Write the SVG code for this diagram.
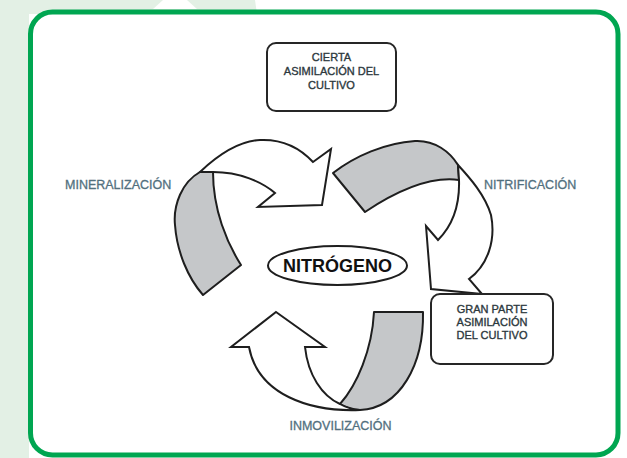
<svg xmlns="http://www.w3.org/2000/svg" width="627" height="458" viewBox="0 0 627 458">
  <style>
    .bg { fill: #e3f0e5; }
    .frame { fill: #ffffff; stroke: #00a651; stroke-width: 5; }
    .box { fill: #ffffff; stroke: #262626; stroke-width: 2; }
    .boxtxt { font-family: "Liberation Sans", Arial, sans-serif; font-size: 11px; fill: #2c383d; stroke: #2c383d; stroke-width: 0.35; text-anchor: middle; }
    .lbl { font-family: "Liberation Sans", Arial, sans-serif; font-size: 12.5px; fill: #52707e; stroke: #52707e; stroke-width: 0.3; }
    .grey { fill: #c5c7c9; stroke: #1e1e1e; stroke-width: 2; stroke-linejoin: round; }
    .white { fill: #ffffff; stroke: #1e1e1e; stroke-width: 2; stroke-linejoin: miter; }
    .center { fill: #ffffff; stroke: #1e1e1e; stroke-width: 2; }
    .centertxt { font-family: "Liberation Sans", Arial, sans-serif; font-size: 18px; font-weight: bold; fill: #111111; text-anchor: middle; }
  </style>

  <!-- background -->
  <rect x="0" y="0" width="627" height="458" fill="#ffffff"/>
  <rect class="bg" x="0" y="0" width="29" height="458"/>
  <polygon class="bg" points="0,0 255,0 257,14 0,14"/>
  <polygon fill="#ffffff" points="153,9 163,0 187,0 197,9"/>
  <rect class="frame" x="30.5" y="12" width="587.5" height="443" rx="22" ry="22"/>

  <!-- connectors (cycle arrows) -->
  <g id="connectors">
    <!-- Mineralización arrow -->
    <path class="grey" d="M 200,172 C 182,182 173,205 175,225 C 177,252 188,278 203,295 L 241,265 C 227,243 213,210 213,172 Z"/>
    <path class="white" d="M 200,172 C 218,155 240,141 260,140 C 282,139 300,148 313,162 L 331,149 L 322,205 L 258,207 L 275,193 C 262,182 240,172 213,172 Z"/>

    <!-- Nitrificación arrow -->
    <path class="grey" d="M 333,173 C 355,156 385,143 415,141 C 435,140 450,152 458,165 L 459,180 C 430,176 395,192 365,212 Z"/>
    <path class="white" d="M 458,165 C 470,178 485,195 491,215 C 496,240 488,265 469,279 L 482,294 L 431,289 L 426,226 L 438,240 C 450,228 460,210 459,180 Z"/>

    <!-- Inmovilización arrow -->
    <path class="grey" d="M 374,312 L 423,312 C 424,365 400,408 360,410 C 352,409 345,407 340,404 C 357,385 372,350 374,312 Z"/>
    <path class="white" d="M 276,312 L 325,347 L 305,347 C 308,375 322,396 340,404 C 347,408 354,410 360,410 C 310,412 258,395 249,347 L 231,347 Z"/>
  </g>

  <!-- nodes -->
  <g id="node-cierta">
    <rect class="box" x="267" y="43" width="129" height="68" rx="9" ry="9"/>
    <text class="boxtxt" x="331.5" y="61">CIERTA</text>
    <text class="boxtxt" x="331.5" y="75">ASIMILACIÓN DEL</text>
    <text class="boxtxt" x="331.5" y="89">CULTIVO</text>
  </g>

  <g id="node-granparte">
    <rect class="box" x="431" y="294" width="122" height="70" rx="9" ry="9"/>
    <text class="boxtxt" x="492" y="313">GRAN PARTE</text>
    <text class="boxtxt" x="492" y="326">ASIMILACIÓN</text>
    <text class="boxtxt" x="492" y="339">DEL CULTIVO</text>
  </g>

  <g id="node-nitrogeno">
    <ellipse class="center" cx="337.5" cy="265.5" rx="69.5" ry="19.5"/>
    <text class="centertxt" x="337.5" y="272">NITRÓGENO</text>
  </g>

  <g id="label-mineralizacion">
    <text class="lbl" x="65" y="189">MINERALIZACIÓN</text>
  </g>
  <g id="label-nitrificacion">
    <text class="lbl" x="484" y="189">NITRIFICACIÓN</text>
  </g>
  <g id="label-inmovilizacion">
    <text class="lbl" x="340.5" y="430" text-anchor="middle">INMOVILIZACIÓN</text>
  </g>
</svg>
